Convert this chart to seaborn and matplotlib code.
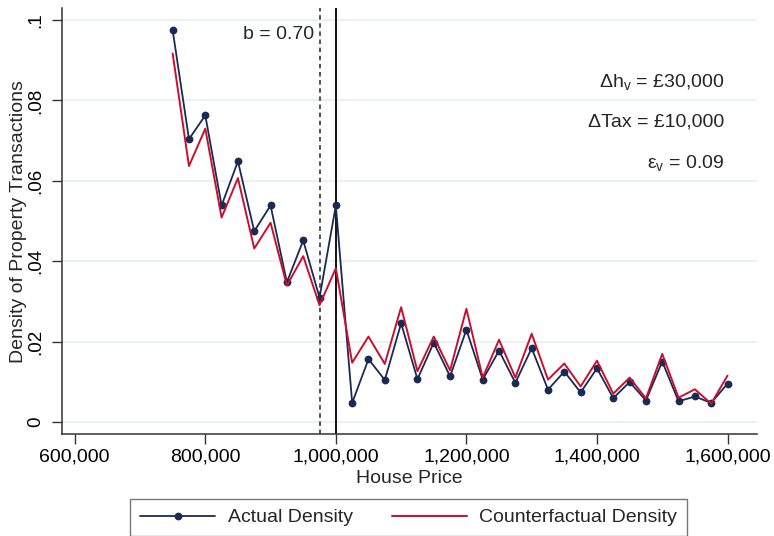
import matplotlib
matplotlib.use("Agg")
import matplotlib.pyplot as plt
import seaborn as sns
import pandas as pd
from matplotlib.lines import Line2D
from matplotlib.ticker import FuncFormatter

# House price bins (bin midpoints, £)
prices = [750000, 775000, 800000, 825000, 850000, 875000, 900000, 925000,
          950000, 975000, 1000000, 1025000, 1050000, 1075000, 1100000,
          1125000, 1150000, 1175000, 1200000, 1225000, 1250000, 1275000,
          1300000, 1325000, 1350000, 1375000, 1400000, 1425000, 1450000,
          1475000, 1500000, 1525000, 1550000, 1575000, 1600000]

actual_density = [0.0975, 0.0704, 0.0763, 0.0539, 0.0649, 0.0475, 0.0539,
                  0.0348, 0.0452, 0.0310, 0.0539, 0.0048, 0.0157, 0.0105,
                  0.0246, 0.0107, 0.0198, 0.0114, 0.0230, 0.0106, 0.0178,
                  0.0098, 0.0184, 0.0081, 0.0126, 0.0074, 0.0134, 0.0060,
                  0.0100, 0.0054, 0.0151, 0.0052, 0.0064, 0.0048, 0.0096]

counterfactual_density = [0.0917, 0.0637, 0.0730, 0.0509, 0.0607, 0.0432,
                          0.0496, 0.0340, 0.0413, 0.0291, 0.0383, 0.0148,
                          0.0213, 0.0145, 0.0286, 0.0127, 0.0213, 0.0129,
                          0.0282, 0.0111, 0.0205, 0.0111, 0.0220, 0.0106,
                          0.0146, 0.0089, 0.0153, 0.0071, 0.0111, 0.0059,
                          0.0170, 0.0061, 0.0082, 0.0046, 0.0116]

y_ticks = [0, 0.02, 0.04, 0.06, 0.08, 0.1]
y_tick_labels = ["0", ".02", ".04", ".06", ".08", ".1"]
x_ticks = [600000, 800000, 1000000, 1200000, 1400000, 1600000]

bunching_start = 975000
notch = 1000000

df = pd.DataFrame({"price": prices,
                   "actual": actual_density,
                   "counterfactual": counterfactual_density})

sns.set_theme(style="white")
plt.rcParams["font.family"] = ["Liberation Sans", "DejaVu Sans"]
plt.rcParams["mathtext.fontset"] = "custom"
plt.rcParams["mathtext.rm"] = "Liberation Sans"
plt.rcParams["mathtext.it"] = "Liberation Sans"

navy = "#1b2a52"
red = "#c8102e"
fs = 14

fig = plt.figure(figsize=(7.74, 5.36), dpi=100)
ax = fig.add_axes([62 / 774, 1 - 434.3 / 536, (756.7 - 62) / 774, (434.3 - 8) / 536])

# horizontal grid lines
for yv in y_ticks:
    ax.axhline(yv, color="#e8eff1", lw=1.2, zorder=0)

sns.lineplot(data=df, x="price", y="actual", ax=ax, color=navy, lw=1.3,
             marker="o", markersize=5.6, markeredgewidth=0, zorder=3)
sns.lineplot(data=df, x="price", y="counterfactual", ax=ax, color=red,
             lw=1.4, zorder=4)

ax.axvline(bunching_start, color="#444444", lw=1.3, ls=(0, (2.5, 2)), zorder=2)
ax.axvline(notch, color="black", lw=1.3, zorder=2)

ax.set_xlim(580500, 1644700)
ax.set_ylim(-0.003, 0.103)

ax.set_yticks(y_ticks)
ax.set_yticklabels(y_tick_labels, rotation=90, va="center")
ax.set_xticks(x_ticks)
ax.xaxis.set_major_formatter(FuncFormatter(lambda v, p: f"{int(v):,}"))

ax.tick_params(axis="both", which="major", length=7, width=1, color="#333333",
               labelsize=fs, labelcolor="black", direction="out",
               bottom=True, left=True)
ax.tick_params(axis="x", pad=3)
ax.tick_params(axis="y", pad=5.5, labelsize=13.5)

for side in ["top", "right"]:
    ax.spines[side].set_visible(False)
for side in ["left", "bottom"]:
    ax.spines[side].set_color("#333333")
    ax.spines[side].set_linewidth(1.1)

ax.set_xlabel("House Price", fontsize=fs, labelpad=3.5)
ax.set_ylabel("Density of Property Transactions", fontsize=fs, labelpad=0.5)

ax.text(966500, 0.0963, "b = 0.70", ha="right", va="center", fontsize=fs)
ax.text(1595000, 0.0845, r"$\mathrm{Δh_v}$ = £30,000", ha="right",
        va="center", fontsize=fs)
ax.text(1595000, 0.0747, "ΔTax = £10,000", ha="right", va="center",
        fontsize=fs)
ax.text(1595000, 0.0645, r"$\mathrm{ε_v}$ = 0.09", ha="right", va="center",
        fontsize=fs)

handles = [
    Line2D([], [], color=navy, lw=1.3, marker="o", markersize=5.6,
           markeredgewidth=0),
    Line2D([], [], color=red, lw=1.4),
]
leg = fig.legend(handles, ["Actual Density", "Counterfactual Density"],
                 loc="upper center", bbox_to_anchor=(0.528, 1 - 499 / 536),
                 ncol=2, frameon=True, fancybox=False, fontsize=fs,
                 handlelength=3.86, columnspacing=2.0, handletextpad=0.65,
                 borderpad=0.5, borderaxespad=0)
leg.get_frame().set_edgecolor("#555555")
leg.get_frame().set_linewidth(1.0)

fig.savefig("out.png", dpi=100)
